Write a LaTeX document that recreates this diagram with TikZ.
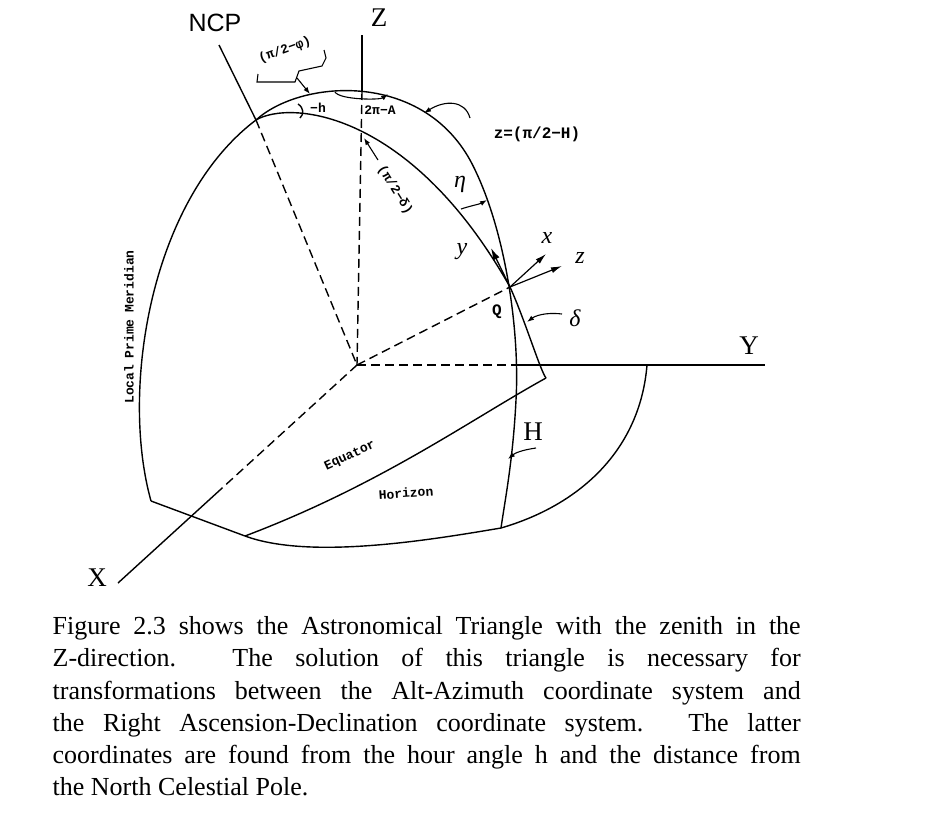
\documentclass[tikz,border=0pt]{standalone}
\usepackage{fontspec}
\setmainfont{Liberation Serif}
\newfontfamily\monob{Liberation Mono}
\newfontfamily\sansb{Liberation Sans}
\usetikzlibrary{arrows.meta}
\begin{document}
\begin{tikzpicture}[x=1pt,y=-1pt,line width=1.4pt,
  dsh/.style={dashed,dash pattern=on 9pt off 5pt},
  big/.style={font=\fontsize{27}{28}\selectfont},
  sml/.style={font=\monob\bfseries\fontsize{13}{14}\selectfont},
  mid/.style={font=\monob\bfseries\fontsize{16}{17}\selectfont},
  ita/.style={font=\itshape\fontsize{24}{26}\selectfont},
  arr/.style={-{Latex[length=7pt,width=5pt]},line width=1.1pt}]
\useasboundingbox (0,0) rectangle (939,835);
\coordinate (O) at (357,365);
\coordinate (Q) at (510,287);
\coordinate (Zt) at (362,35);
\coordinate (Zm) at (362,91);
\coordinate (Nt) at (219,45);
\coordinate (Nm) at (256,120);
\coordinate (Ym) at (520,365);
\coordinate (Ye) at (765,365);
\coordinate (Xm) at (220,490);
\coordinate (Xe) at (118,583);
\coordinate (LB) at (151,501);
\coordinate (HL) at (245,536);
\coordinate (HB) at (501,528);
\coordinate (EC) at (546,378);
% axes
\draw (Zt) -- (Zm);
\draw[dsh] (Zm) -- (O);
\draw (Nt) -- (Nm);
\draw[dsh] (Nm) -- (O);
\draw[dsh] (O) -- (Ym);
\draw (Ym) -- (Ye);
\draw[dsh] (O) -- (Xm);
\draw (Xm) -- (Xe);
\draw[dsh] (O) -- (Q);
% curves
\draw (LB) .. controls (120,390) and (150,200) .. (Nm);
\draw (Nm) .. controls (290,100) and (410,110) .. (Q);
\draw (Nm) .. controls (300,80) and (420,70) .. (470,160) .. controls (505,225) and (520,330) .. (516,400) .. controls (513,460) and (505,500) .. (HB);
\draw (Q) .. controls (525,320) and (540,370) .. (EC);
\draw (EC) .. controls (470,420) and (380,485) .. (HL);
\draw (LB) -- (HL) .. controls (310,560) and (430,540) .. (HB) .. controls (580,505) and (640,450) .. (647,365);
% small angle marks
\draw[arr] (335,92) .. controls (340,100) and (380,100) .. (388,94);
\draw (298,104) .. controls (304,108) and (304,114) .. (300,118);
\draw[arr] (461,209) .. controls (470,206) and (480,204) .. (487,200);
% brace
\draw[line width=1.1pt] (258,74) -- (257,82) -- (295,82) -- (299,71) -- (322,66) -- (326,58) -- (324,50);
\draw[arr] (297,78) -- (310,94);
\node[sml,rotate=20] (phi) at (285,50) {(π/2−φ)};
\node[sml] (mh) at (318,108) {−h};
\node[sml] (tA) at (380,110) {2π−A};
\node[mid] (zH) at (537,134) {z=(π/2−H)};
\draw[arr] (470,118) .. controls (465,100) and (445,100) .. (424,113);
\node[sml,rotate=-58] (pd) at (395,190) {(π/2−δ)};
\draw[arr] (378,160) -- (364,138);
\node[ita] (eta) at (460,184) {η};
% Q vectors
\draw[-{Latex[length=12pt,width=7pt]},line width=1.3pt] (Q) -- (491,248);
\draw[-{Latex[length=11pt,width=6pt]},line width=1.2pt] (Q) -- (546,254);
\draw[-{Latex[length=11pt,width=6pt]},line width=1.2pt] (Q) -- (562,266);
\node[ita] (yl) at (462,252) {y};
\node[ita] (xl) at (547,238) {x};
\node[ita] (zl) at (580,258) {z};
\node[mid] (Ql) at (497,312) {Q};
\node[ita] (dl) at (575,318) {δ};
\draw[arr] (562,314) .. controls (545,312) and (535,316) .. (527,322);
\node[big] (Hl) at (533,432) {H};
\draw[arr] (536,448) .. controls (522,450) and (515,453) .. (508,459);
\node[big,font=\sansb\fontsize{25}{27}\selectfont] (NCP) at (215,23) {NCP};
\node[big] (Zl) at (379,18) {Z};
\node[big] (Yl) at (749,346) {Y};
\node[big] (Xl) at (97,578) {X};
\node[sml,rotate=25] (eq) at (350,456) {Equator};
\node[sml,rotate=4] (hz) at (406,493) {Horizon};
\node[sml,rotate=90] (lpm) at (129,327) {Local\enspace Prime\enspace Meridian};
% caption
\node[anchor=north west,text width=748pt,align=justify,inner sep=0pt,
  font=\fontsize{26}{32.2}\selectfont] (cap) at (52,616)
 {Figure 2.3 shows the Astronomical Triangle with the zenith in the\linebreak Z-direction. The solution of this triangle is necessary for\linebreak transformations between the Alt-Azimuth coordinate system and\linebreak the Right Ascension-Declination coordinate system. The latter\linebreak coordinates are found from the hour angle h and the distance from\linebreak the North Celestial Pole.};
\end{tikzpicture}
\end{document}
